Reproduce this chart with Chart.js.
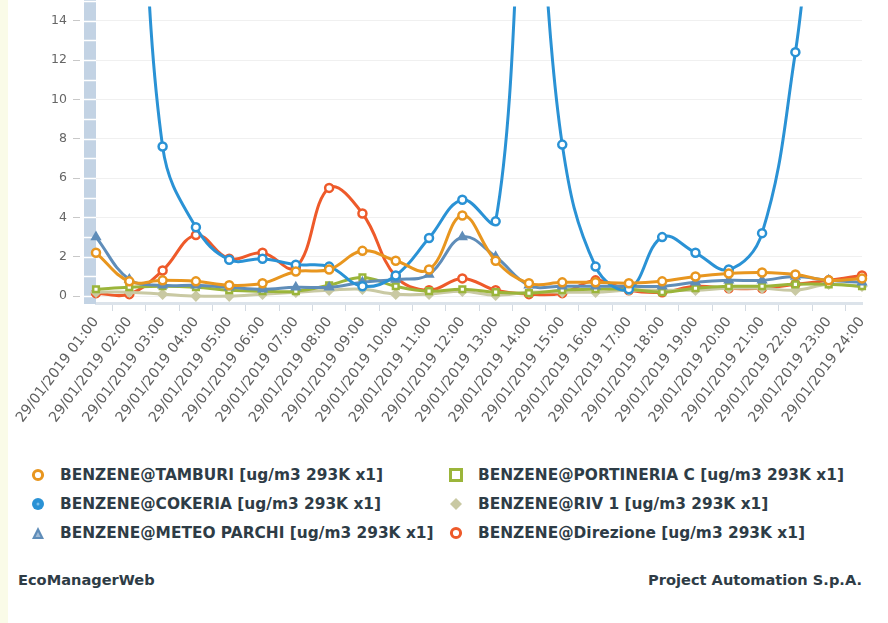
<!DOCTYPE html>
<html>
<head>
<meta charset="utf-8">
<script src="https://cdn.jsdelivr.net/npm/chart.js@4"></script>
<style>
html,body{margin:0;padding:0;background:#fff;}
body{width:888px;height:623px;position:relative;overflow:hidden;font-family:"DejaVu Sans",Verdana,sans-serif;}
#strip{position:absolute;left:0;top:0;width:8px;height:623px;background:#fafbe8;}
#wrap{position:absolute;left:0;top:0;width:888px;height:445px;}
.leg{position:absolute;font-weight:bold;font-size:15.4px;color:#2e3c46;white-space:nowrap;line-height:18px;height:18px;}
.leg svg{position:absolute;top:2px;}
.foot{position:absolute;font-weight:bold;font-size:14.6px;color:#2e3c46;white-space:nowrap;top:571px;}
</style>
</head>
<body>
<div id="strip"></div>
<div id="wrap"><canvas id="c" width="888" height="445"></canvas></div>
<div id="legend"></div>
<div class="foot" style="left:18px;">EcoManagerWeb</div>
<div class="foot" style="right:26px;">Project Automation S.p.A.</div>
<script>
const hours = ["01:00","02:00","03:00","04:00","05:00","06:00","07:00","08:00","09:00","10:00","11:00","12:00",
               "13:00","14:00","15:00","16:00","17:00","18:00","19:00","20:00","21:00","22:00","23:00","24:00"];
const labels = hours.map(h => "29/01/2019 " + h);
const yTickValues = [0, 2, 4, 6, 8, 10, 12, 14];

const seriesNames = [
  "BENZENE@TAMBURI [ug/m3 293K x1]",
  "BENZENE@COKERIA [ug/m3 293K x1]",
  "BENZENE@METEO PARCHI [ug/m3 293K x1]",
  "BENZENE@PORTINERIA C [ug/m3 293K x1]",
  "BENZENE@RIV 1 [ug/m3 293K x1]",
  "BENZENE@Direzione [ug/m3 293K x1]"
];
const tamburi    = [2.2, 0.75, 0.8, 0.75, 0.55, 0.65, 1.25, 1.35, 2.3, 1.8, 1.35, 4.1, 1.8, 0.65, 0.7, 0.7, 0.65, 0.75, 1.0, 1.15, 1.2, 1.1, 0.8, 0.9];
const cokeria    = [20, 28, 7.6, 3.5, 1.85, 1.9, 1.6, 1.5, 0.5, 1.05, 2.95, 4.9, 3.8, 24, 7.7, 1.5, 0.35, 3.0, 2.2, 1.35, 3.2, 12.4, 25, 20];
const meteo      = [3.0, 0.85, 0.55, 0.55, 0.45, 0.35, 0.45, 0.45, 0.7, 0.85, 1.1, 3.0, 2.0, 0.55, 0.5, 0.5, 0.5, 0.5, 0.7, 0.8, 0.8, 1.0, 0.8, 0.7];
const portineria = [0.35, 0.45, 0.5, 0.45, 0.3, 0.25, 0.25, 0.55, 0.95, 0.5, 0.25, 0.35, 0.2, 0.15, 0.3, 0.35, 0.35, 0.2, 0.4, 0.5, 0.5, 0.6, 0.6, 0.5];
const riv1       = [0.2, 0.2, 0.1, 0.0, 0.0, 0.1, 0.2, 0.3, 0.35, 0.1, 0.1, 0.25, 0.05, 0.2, 0.2, 0.2, 0.3, 0.3, 0.3, 0.4, 0.4, 0.3, 0.6, 0.5];
const direzione  = [0.15, 0.1, 1.3, 3.1, 1.9, 2.2, 1.45, 5.5, 4.2, 1.0, 0.3, 0.9, 0.3, 0.1, 0.15, 0.8, 0.3, 0.2, 0.5, 0.4, 0.4, 0.6, 0.8, 1.05];

const colors = ["#e8961f", "#2a92d5", "#5f8db9", "#9bb53a", "#c9c9a3", "#ee5a2a"];
const styles = ["circle", "circle", "triangle", "rect", "rectRot", "circle"];
const fills  = ["#ffffff", "#ffffff", "#5f8db9", "#ffffff", "#c9c9a3", "#ffffff"];
const values = [tamburi, cokeria, meteo, portineria, riv1, direzione];

const datasets = values.map((v, i) => ({
  label: seriesNames[i],
  data: v,
  borderColor: colors[i],
  backgroundColor: colors[i],
  borderWidth: 3,
  tension: 0.4,
  pointStyle: styles[i],
  pointRadius: 4,
  pointBorderWidth: 2.5,
  pointBackgroundColor: fills[i],
  pointBorderColor: colors[i],
  fill: false
}));

const bandPlugin = {
  id: 'band',
  beforeDatasetsDraw(chart) {
    const ctx = chart.ctx, ca = chart.chartArea, y = chart.scales.y;
    ctx.save();
    ctx.fillStyle = '#ffffff';
    ctx.fillRect(ca.left - 16, 0, 4, ca.bottom + 1);
    ctx.fillStyle = '#c3d3e4';
    ctx.fillRect(ca.left - 12, 0, 12, ca.bottom + 1);
    ctx.strokeStyle = '#ffffff';
    ctx.lineWidth = 1.5;
    for (let v = 0; v <= 15; v++) {
      const py = Math.round(y.getPixelForValue(v)) + 0.5;
      ctx.beginPath();
      ctx.moveTo(ca.left - 12, py);
      ctx.lineTo(ca.left, py);
      ctx.stroke();
    }
    ctx.restore();
  }
};

new Chart(document.getElementById('c'), {
  type: 'line',
  data: { labels: labels, datasets: datasets },
  options: {
    responsive: false,
    animation: false,
    devicePixelRatio: 1,
    layout: { padding: { left: 0, right: 26, top: 0, bottom: 0 } },
    plugins: { legend: { display: false }, tooltip: { enabled: false } },
    scales: {
      x: {
        offset: false,
        grid: { offset: true, drawOnChartArea: false, tickLength: 8, color: '#d3dae2', tickColor: '#d3dae2', lineWidth: 1 },
        border: { color: '#dce3ea', width: 3 },
        ticks: {
          autoSkip: false, minRotation: 53, maxRotation: 53, padding: 3,
          color: '#606060', font: { family: 'DejaVu Sans', size: 14.2 }
        },
        afterFit(s) { s.height = 142; s.paddingLeft = 0; s.paddingRight = 0; }
      },
      y: {
        min: -0.35,
        max: 14.72,
        afterBuildTicks(s) { s.ticks = yTickValues.map(v => ({ value: v })); },
        grid: { color: '#f0f0f0', tickColor: '#c8c8c8', tickLength: 23, lineWidth: 1 },
        border: { display: false },
        ticks: { padding: 6, color: '#666666', font: { family: 'DejaVu Sans', size: 12.5 } },
        afterFit(s) { s.width = 96; s.paddingTop = 0; s.paddingBottom = 0; }
      }
    }
  },
  plugins: [bandPlugin]
});

// HTML legend, two columns
function markerSvg(i) {
  const c = colors[i];
  let shape = '';
  if (i === 0 || i === 5) shape = `<circle cx="7" cy="7" r="4.6" fill="#fff" stroke="${c}" stroke-width="3"/>`;
  else if (i === 1) shape = `<circle cx="7" cy="7" r="6" fill="${c}"/><circle cx="7" cy="7" r="1.5" fill="#7fc0ea"/>`;
  else if (i === 2) shape = `<polygon points="7,1 13,13 1,13" fill="${c}"/><polygon points="7,6 9.5,11 4.5,11" fill="#9fbbd6"/>`;
  else if (i === 3) shape = `<rect x="1.5" y="1.5" width="11" height="11" fill="#fff" stroke="${c}" stroke-width="3"/>`;
  else if (i === 4) shape = `<polygon points="7,1 13,7 7,13 1,7" fill="${c}"/>`;
  return `<svg width="14" height="14" viewBox="0 0 14 14">${shape}</svg>`;
}
const legendOrder = [[0, 0], [1, 0], [2, 0], [3, 1], [4, 1], [5, 1]];
const legEl = document.getElementById('legend');
const rowTops = [466, 495, 524];
legendOrder.forEach(([i, col], k) => {
  const row = k % 3;
  const d = document.createElement('div');
  d.className = 'leg';
  d.style.top = rowTops[row] + 'px';
  d.style.left = (col === 0 ? 31 : 449) + 'px';
  d.innerHTML = markerSvg(i) + `<span style="position:absolute;left:29px;top:0;">${seriesNames[i]}</span>`;
  legEl.appendChild(d);
});
</script>
</body>
</html>
